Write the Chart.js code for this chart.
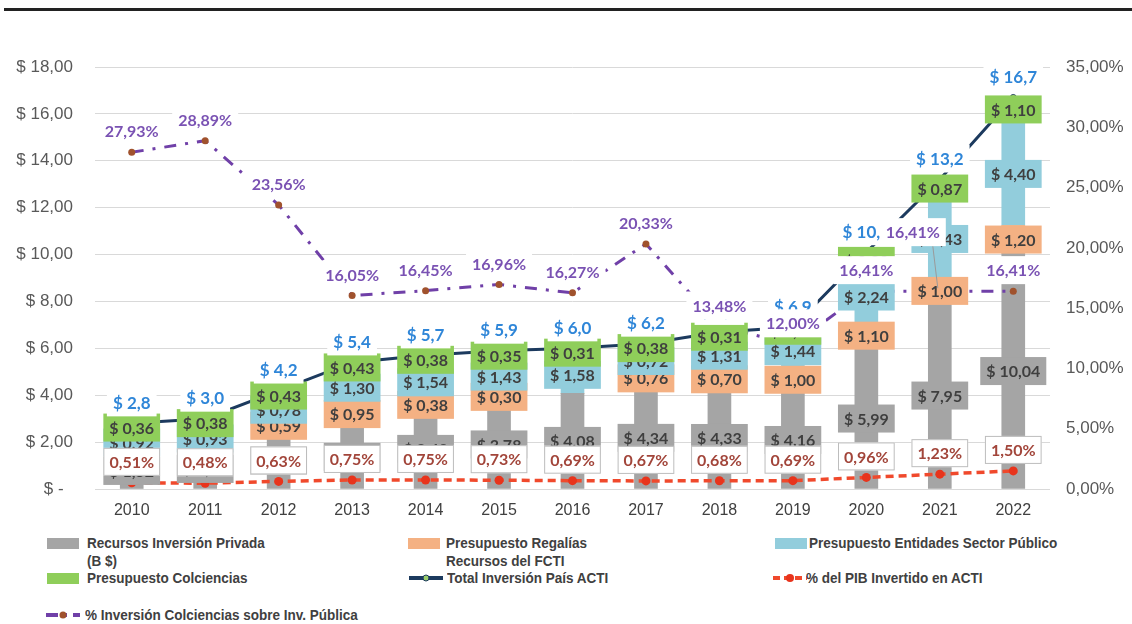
<!DOCTYPE html>
<html>
<head>
<meta charset="utf-8">
<script src="https://cdn.jsdelivr.net/npm/chart.js@4.4.0/dist/chart.umd.min.js"></script>
<style>
  body { margin: 0; background: #fff; width: 1132px; height: 624px; position: relative; overflow: hidden; }
  #topline { position: absolute; left: 4px; top: 8px; width: 1128px; height: 3px; background: #222; }
  #chart { position: absolute; left: 0; top: 0; }
  .leg { position: absolute; font-family: "Liberation Sans", Arial, sans-serif; font-weight: bold; font-size: 15px; color: #404040; line-height: 18px; white-space: nowrap; transform: scaleX(0.9); transform-origin: left top; }
  .sw { position: absolute; width: 32px; height: 11px; }
  .ln { position: absolute; }
</style>
</head>
<body>
<div id="topline"></div>
<canvas id="chart" width="1132" height="530"></canvas>

<div class="sw" style="left:47px;top:538px;background:#a5a5a5"></div>
<div class="leg" style="left:87px;top:534px">Recursos Inversión Privada<br>(B $)</div>
<div class="sw" style="left:408px;top:538px;background:#f4b183"></div>
<div class="leg" style="left:446px;top:534px">Presupuesto Regalías<br>Recursos del FCTI</div>
<div class="sw" style="left:775px;top:538px;background:#92cddc"></div>
<div class="leg" style="left:809px;top:534px">Presupuesto Entidades Sector Público</div>

<div class="sw" style="left:47px;top:573px;background:#8fce5a"></div>
<div class="leg" style="left:87px;top:569px">Presupuesto Colciencias</div>
<svg class="ln" style="left:408px;top:572px" width="36" height="12"><line x1="1" y1="6" x2="35" y2="6" stroke="#1c3a5e" stroke-width="4"/><circle cx="18" cy="6" r="3" fill="#9acd6a" stroke="#1c3a5e"/></svg>
<div class="leg" style="left:447px;top:569px">Total Inversión País ACTI</div>
<svg class="ln" style="left:772px;top:572px" width="36" height="12"><line x1="1" y1="6" x2="35" y2="6" stroke="#f0492c" stroke-width="4" stroke-dasharray="7,4"/><circle cx="18" cy="6" r="4" fill="#e8341c"/></svg>
<div class="leg" style="left:806px;top:569px">% del PIB Invertido en ACTI</div>

<svg class="ln" style="left:45px;top:609px" width="36" height="12"><line x1="1" y1="6" x2="35" y2="6" stroke="#7040a8" stroke-width="4" stroke-dasharray="12,6,3,6"/><circle cx="18" cy="6" r="3.5" fill="#a0522d"/></svg>
<div class="leg" style="left:85px;top:606px">% Inversión Colciencias sobre Inv. Pública</div>

<script>
// Categories and series (billions of pesos, percentages)
const years = ["2010", "2011", "2012", "2013", "2014", "2015", "2016", "2017", "2018", "2019", "2020", "2021", "2022"];
const privada = [1.52, 1.69, 2.40, 2.72, 3.40, 3.78, 4.08, 4.34, 4.33, 4.16, 5.99, 7.95, 10.04];
const regalias = [0, 0, 0.59, 0.95, 0.38, 0.30, 0, 0.76, 0.70, 1.00, 1.10, 1.00, 1.20];
const entidades = [0.92, 0.93, 0.78, 1.30, 1.54, 1.43, 1.58, 0.72, 1.31, 1.44, 2.24, 3.43, 4.40];
const colciencias = [0.36, 0.38, 0.43, 0.43, 0.38, 0.35, 0.31, 0.38, 0.31, 0.30, 0.80, 0.87, 1.10];
const totalPais = [2.8, 3.0, 4.2, 5.4, 5.7, 5.9, 6.0, 6.2, 6.7, 6.9, 10.1, 13.2, 16.7];
const pibPct = [0.51, 0.48, 0.63, 0.75, 0.75, 0.73, 0.69, 0.67, 0.68, 0.69, 0.96, 1.23, 1.50];
const colcPct = [27.93, 28.89, 23.56, 16.05, 16.45, 16.96, 16.27, 20.33, 13.48, 12.00, 16.41, 16.41, 16.41];

const segColors = ["#a5a5a5", "#f4b183", "#92cddc", "#8fce5a"];

const money = (v, d) => "$ " + v.toFixed(d).replace(".", ",");
const pct = v => v.toFixed(2).replace(".", ",") + "%";

// draw a label box centred on x,y
function labelBox(ctx, x, y, text, o) {
  ctx.font = o.font;
  const w = ctx.measureText(text).width + 12;
  const h = 28;
  ctx.fillStyle = o.bg;
  ctx.fillRect(x - w / 2, y - h / 2, w, h);
  if (o.border) {
    ctx.strokeStyle = o.border;
    ctx.lineWidth = 1;
    ctx.strokeRect(x - w / 2 + 0.5, y - h / 2 + 0.5, w - 1, h - 1);
  }
  ctx.fillStyle = o.color;
  ctx.textAlign = "center";
  ctx.textBaseline = "middle";
  ctx.fillText(text, x, y + 1);
}

// the 2021 Colciencias label was moved aside in the original
const colcShift = { 11: [-27, -59] };

const labelPlugin = {
  id: "labels",
  afterDatasetsDraw(chart) {
    const ctx = chart.ctx;
    ctx.save();
    // stacked segment labels
    for (let d = 0; d < 4; d++) {
      const meta = chart.getDatasetMeta(d);
      const vals = chart.data.datasets[d].data;
      meta.data.forEach((bar, i) => {
        if (!vals[i]) return;
        labelBox(ctx, bar.x, (bar.y + bar.base) / 2, money(vals[i], 2),
          { font: "bold 16px Lato", bg: segColors[d], color: "#3f3f3f" });
      });
    }
    // totals
    chart.getDatasetMeta(4).data.forEach((p, i) => {
      labelBox(ctx, p.x, p.y - 21, money(totalPais[i], 1),
        { font: "bold 17px Lato", bg: "#fff", color: "#2f86d8" });
    });
    // % PIB
    chart.getDatasetMeta(5).data.forEach((p, i) => {
      labelBox(ctx, p.x, p.y - 21, pct(pibPct[i]),
        { font: "bold 16px Lato", bg: "#fff", border: "#bdbdbd", color: "#a2453a" });
    });
    // % Colciencias
    chart.getDatasetMeta(6).data.forEach((p, i) => {
      let lx = p.x, ly = p.y - 21;
      if (colcShift[i]) {
        lx = p.x + colcShift[i][0];
        ly = p.y + colcShift[i][1];
        ctx.strokeStyle = "#9a9a9a";
        ctx.lineWidth = 1;
        ctx.beginPath();
        ctx.moveTo(lx + 20, ly + 14);
        ctx.lineTo(p.x - 2, p.y - 3);
        ctx.stroke();
      }
      labelBox(ctx, lx, ly, pct(colcPct[i]),
        { font: "bold 16px Lato", bg: "#fff", color: "#7a52b3" });
    });
    ctx.restore();
  }
};

const tickFont = { family: "Liberation Sans", size: 17 };

const barSet = (label, data, color) => ({
  type: "bar", label, data, backgroundColor: color, stack: "s",
  barThickness: 23, yAxisID: "y", order: 1
});

new Chart(document.getElementById("chart"), {
  data: {
    labels: years,
    datasets: [
      barSet("Recursos Inversión Privada (B $)", privada, segColors[0]),
      barSet("Presupuesto Regalías Recursos del FCTI", regalias, segColors[1]),
      barSet("Presupuesto Entidades Sector Público", entidades, segColors[2]),
      barSet("Presupuesto Colciencias", colciencias, segColors[3]),
      {
        type: "line", label: "Total Inversión País ACTI", data: totalPais, yAxisID: "y", stack: "t",
        borderColor: "#1c3a5e", borderWidth: 3, pointRadius: 3,
        pointBackgroundColor: "#9acd6a", pointBorderColor: "#1c3a5e", pointBorderWidth: 1, order: 0
      },
      {
        type: "line", label: "% del PIB Invertido en ACTI", data: pibPct, yAxisID: "y1",
        borderColor: "#f0492c", borderWidth: 3.5, borderDash: [8, 5],
        pointRadius: 4.5, pointBackgroundColor: "#e8341c", pointBorderWidth: 0, order: 0
      },
      {
        type: "line", label: "% Inversión Colciencias sobre Inv. Pública", data: colcPct, yAxisID: "y1",
        borderColor: "#7040a8", borderWidth: 3, borderDash: [12, 9, 3, 9],
        pointRadius: 3.5, pointBackgroundColor: "#a0522d", pointBorderWidth: 0, order: 0
      }
    ]
  },
  options: {
    responsive: false,
    animation: false,
    devicePixelRatio: 1,
    layout: { padding: { top: 67, bottom: 6, left: 0, right: 0 } },
    plugins: { legend: { display: false }, tooltip: { enabled: false } },
    scales: {
      x: {
        stacked: true,
        grid: { display: false, drawTicks: false },
        border: { display: false },
        ticks: { font: { family: "Liberation Sans", size: 16 }, color: "#404040", padding: 12 },
        afterFit: s => { s.height = 35; }
      },
      y: {
        stacked: true, min: 0, max: 18,
        grid: { color: "#d9d9d9", drawTicks: false },
        border: { display: false },
        ticks: {
          stepSize: 2, font: tickFont, color: "#595959", padding: 22,
          callback: v => v === 0 ? "$ -  " : money(v, 2)
        },
        afterFit: s => { s.width = 95; }
      },
      y1: {
        position: "right", min: 0, max: 35,
        grid: { display: false, drawTicks: false },
        border: { display: false },
        ticks: { stepSize: 5, font: tickFont, color: "#595959", padding: 16, callback: v => pct(v) },
        afterFit: s => { s.width = 82; }
      }
    }
  },
  plugins: [labelPlugin]
});
</script>
</body>
</html>
